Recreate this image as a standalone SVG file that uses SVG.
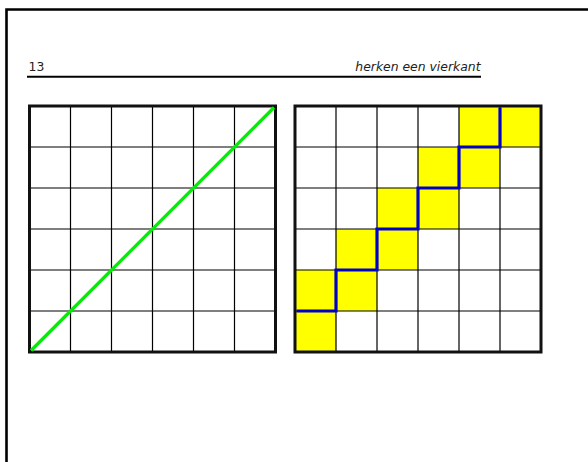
<svg xmlns="http://www.w3.org/2000/svg" width="588" height="462" viewBox="0 0 588 462">
<style>
.txt{font-family:"DejaVu Sans",sans-serif;font-size:12.4px;fill:#222}
.thin{stroke:#000;stroke-width:1.2;fill:none}
.frame{stroke:#111;stroke-width:3;fill:none}
.yel{fill:#ffff00}
</style>
<rect width="588" height="462" fill="#fff"/>
<g id="page">
<path d="M6.5,462 V9.5 H600" fill="none" stroke="#000" stroke-width="2.6"/>
<text class="txt" x="28.5" y="70.8">13</text>
<text class="txt" x="480.5" y="70.8" text-anchor="end" font-style="italic">herken een vierkant</text>
<line x1="27" y1="76.8" x2="481" y2="76.8" stroke="#000" stroke-width="2"/>
</g>
<g id="grid-left">
<path class="thin" d="M70.5,106V352M111.5,106V352M152.5,106V352M193.5,106V352M234.5,106V352M29.5,147H275.5M29.5,188H275.5M29.5,229H275.5M29.5,270H275.5M29.5,311H275.5"/>
<rect class="frame" x="29.5" y="106" width="246" height="246"/>
<line x1="31" y1="350.5" x2="274" y2="107.5" stroke="#00ee00" stroke-width="3.2"/>
</g>
<g id="grid-right">
<rect class="yel" x="459" y="106" width="82" height="41"/>
<rect class="yel" x="418" y="147" width="82" height="41"/>
<rect class="yel" x="377" y="188" width="82" height="41"/>
<rect class="yel" x="336" y="229" width="82" height="41"/>
<rect class="yel" x="295" y="270" width="82" height="41"/>
<rect class="yel" x="295" y="311" width="41" height="41"/>
<path class="thin" d="M336,106V352M377,106V352M418,106V352M459,106V352M500,106V352M295,147H541M295,188H541M295,229H541M295,270H541M295,311H541"/>
<rect class="frame" x="295" y="106" width="246" height="246"/>
<path d="M296.5,311H336V270H377V229H418V188H459V147H500V107.5" fill="none" stroke="#0000cc" stroke-width="3.2"/>
</g>
</svg>
